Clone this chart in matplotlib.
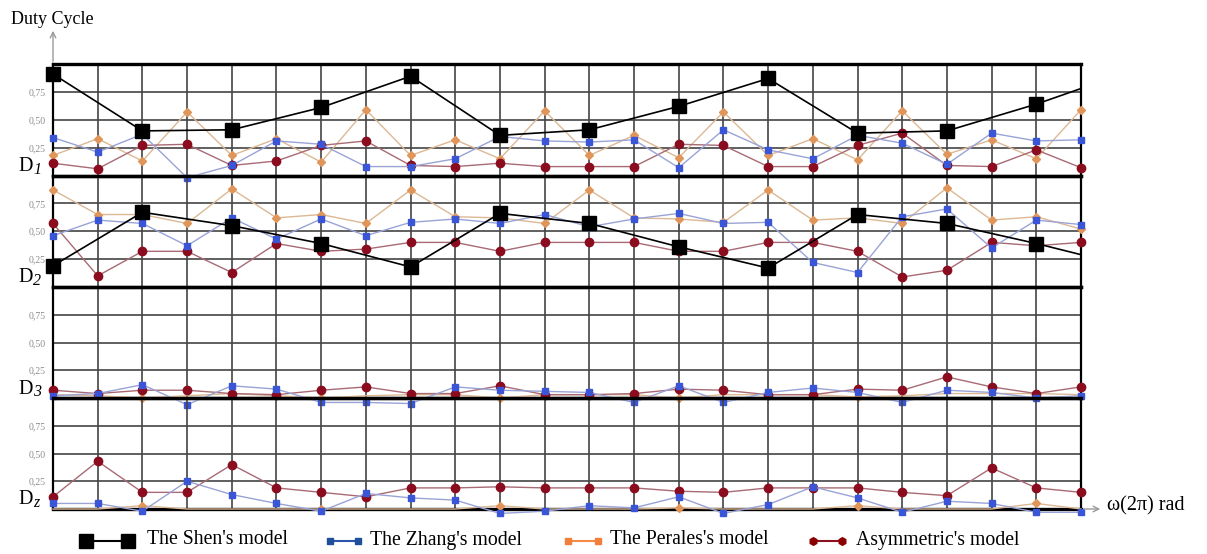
import numpy as np
import matplotlib
matplotlib.use("Agg")
import matplotlib.pyplot as plt
from matplotlib.lines import Line2D

# ---------------- data ----------------
x = list(range(24))
shen_x = [0, 2, 4, 6, 8, 10, 12, 14, 16, 18, 20, 22, 23]

shen_d1 = [0.91, 0.40, 0.41, 0.61, 0.89, 0.36, 0.41, 0.62, 0.87, 0.38, 0.40, 0.64, 0.78]
zhang_d1 = [0.34, 0.21, 0.37, -0.02, 0.09, 0.31, 0.28, 0.08, 0.08, 0.15, 0.35, 0.31,
            0.30, 0.32, 0.07, 0.41, 0.23, 0.15, 0.36, 0.29, 0.10, 0.38, 0.31, 0.32]
perales_d1 = [0.18, 0.33, 0.13, 0.57, 0.18, 0.33, 0.12, 0.59, 0.18, 0.32, 0.15, 0.58,
              0.18, 0.36, 0.16, 0.57, 0.18, 0.33, 0.14, 0.58, 0.19, 0.32, 0.15, 0.59]
asym_d1 = [0.11, 0.06, 0.27, 0.28, 0.09, 0.13, 0.27, 0.31, 0.09, 0.08, 0.11, 0.08,
           0.08, 0.08, 0.28, 0.27, 0.08, 0.08, 0.27, 0.38, 0.09, 0.08, 0.23, 0.07]

shen_d2 = [0.19, 0.67, 0.55, 0.39, 0.18, 0.66, 0.57, 0.36, 0.17, 0.65, 0.57, 0.39, 0.29]
zhang_d2 = [0.46, 0.60, 0.57, 0.37, 0.62, 0.43, 0.61, 0.46, 0.58, 0.61, 0.57, 0.65,
            0.54, 0.61, 0.66, 0.57, 0.58, 0.22, 0.13, 0.63, 0.70, 0.35, 0.60, 0.56]
perales_d2 = [0.87, 0.65, 0.65, 0.57, 0.88, 0.62, 0.65, 0.57, 0.87, 0.63, 0.62, 0.57,
              0.87, 0.62, 0.61, 0.58, 0.87, 0.60, 0.62, 0.57, 0.89, 0.60, 0.63, 0.52]
asym_d2 = [0.57, 0.10, 0.32, 0.32, 0.13, 0.39, 0.32, 0.34, 0.40, 0.40, 0.32, 0.40,
           0.40, 0.40, 0.32, 0.32, 0.40, 0.40, 0.32, 0.09, 0.15, 0.40, 0.37, 0.40]

zhang_d3 = [0.02, 0.04, 0.12, -0.06, 0.11, 0.08, -0.04, -0.04, -0.05, 0.10, 0.07, 0.06,
            0.05, -0.04, 0.11, -0.04, 0.05, 0.09, 0.05, -0.04, 0.07, 0.05, 0.00, 0.02]
perales_d3 = [0.03, 0.02, 0.00, 0.02, 0.04, 0.02, 0.00, 0.02, 0.03, 0.03, 0.00, 0.03,
              0.03, 0.03, 0.00, 0.03, 0.03, 0.03, 0.01, 0.02, 0.04, 0.04, 0.04, 0.03]
asym_d3 = [0.07, 0.04, 0.07, 0.07, 0.04, 0.03, 0.07, 0.10, 0.04, 0.04, 0.11, 0.03,
           0.03, 0.04, 0.08, 0.07, 0.03, 0.03, 0.08, 0.07, 0.19, 0.10, 0.04, 0.10]

zhang_d4 = [0.05, 0.05, -0.02, 0.25, 0.13, 0.05, -0.02, 0.14, 0.10, 0.08, -0.04, -0.02,
            0.03, 0.01, 0.11, -0.04, 0.04, 0.20, 0.10, -0.03, 0.07, 0.05, -0.03, -0.03]
perales_d4 = [0.00, 0.00, 0.03, 0.00, 0.00, 0.00, 0.00, 0.00, 0.00, 0.00, 0.03, 0.00,
              0.00, 0.00, 0.01, 0.00, 0.00, 0.00, 0.03, 0.00, 0.00, 0.00, 0.05, 0.00]
asym_d4 = [0.11, 0.43, 0.15, 0.15, 0.40, 0.19, 0.15, 0.11, 0.19, 0.19, 0.20, 0.19,
           0.19, 0.19, 0.16, 0.15, 0.19, 0.19, 0.19, 0.15, 0.12, 0.37, 0.19, 0.15]

panel_labels = ["1", "2", "3", "z"]
ytick_vals = [0.25, 0.50, 0.75]
ytick_labels = ["0,25", "0,50", "0,75"]
legend_labels = ["The Shen's model", "The Zhang's model", "The Perales's model", "Asymmetric's model"]

panels = [
    (shen_d1, zhang_d1, perales_d1, asym_d1),
    (shen_d2, zhang_d2, perales_d2, asym_d2),
    (None, zhang_d3, perales_d3, asym_d3),
    (None, zhang_d4, perales_d4, asym_d4),
]

# ---------------- style ----------------
SERIF = ["Liberation Serif", "DejaVu Serif"]
W, H = 1207, 554
fig = plt.figure(figsize=(W / 100, H / 100), dpi=100)
fig.patch.set_facecolor("white")

left_px, right_px = 53, 1081
edges = [64, 175.5, 287, 398, 509]

c_zhang_line, c_zhang_mk = "#9aa3d6", "#3a55d6"
c_per_line, c_per_mk = "#dcb894", "#e0965a"
c_asym_line, c_asym_mk = "#a86a74", "#8a0c1e"

for i, (shen, zh, pe, asy) in enumerate(panels):
    top, bot = edges[i], edges[i + 1]
    ax = fig.add_axes([left_px / W, 1 - bot / H, (right_px - left_px) / W, (bot - top) / H])
    ax.patch.set_visible(False)
    ax.set_xlim(0, 23)
    ax.set_ylim(0, 1)
    ax.set_xticks(range(1, 23))
    ax.set_yticks(ytick_vals)
    ax.set_yticklabels(ytick_labels, fontsize=7, color="#8c8c8c", family=SERIF)
    ax.tick_params(axis="x", length=0, labelbottom=False)
    ax.tick_params(axis="y", length=0, pad=5)
    ax.grid(True, color="#444444", lw=1.2)
    ax.set_axisbelow(True)
    for s in ("top", "bottom"):
        ax.spines[s].set_linewidth(2.4)
        ax.spines[s].set_color("black")
    for s in ("left", "right"):
        ax.spines[s].set_linewidth(1.6)
        ax.spines[s].set_color("black")

    per_every = None if shen is not None else [2, 6, 10, 14, 18, 22]
    ax.plot(x, pe, color=c_per_line, lw=1.0, marker="D", ms=4.5, mfc=c_per_mk, mec=c_per_mk,
            markevery=per_every, clip_on=False, zorder=3)
    ax.plot(x, asy, color=c_asym_line, lw=1.0, marker="o", ms=6, mfc=c_asym_mk, mec=c_asym_mk,
            clip_on=False, zorder=4)
    ax.plot(x, zh, color=c_zhang_line, lw=1.0, marker="s", ms=5, mfc=c_zhang_mk, mec=c_zhang_mk,
            clip_on=False, zorder=5)
    if shen is not None:
        ax.plot(shen_x, shen, color="black", lw=1.2, marker="s", ms=9.5, mfc="black", mec="black",
                markevery=list(range(12)), clip_on=False, zorder=6)

# ---------------- annotations overlay ----------------
ov = fig.add_axes([0, 0, 1, 1])
ov.set_xlim(0, W)
ov.set_ylim(H, 0)
ov.axis("off")
ov.patch.set_visible(False)

ov.annotate("", xy=(53, 28), xytext=(53, 64),
            arrowprops=dict(arrowstyle="->", color="#9a9a9a", lw=1.0))
ov.text(11, 19, "Duty Cycle", fontsize=13, family=SERIF, va="center", ha="left")
ov.annotate("", xy=(1103, 509), xytext=(1081, 509),
            arrowprops=dict(arrowstyle="->", color="#9a9a9a", lw=1.0))
ov.text(1107, 506, "ω(2π) rad", fontsize=14.5, family=SERIF, va="center", ha="left")

for i, sub in enumerate(panel_labels):
    b = edges[i + 1]
    ov.text(18, b - 9, "D", fontsize=14.5, family=SERIF, va="center", ha="left")
    ov.text(33, b - 6, sub, fontsize=11.5, family=SERIF, style="italic", va="center", ha="left")

# legend (manual)
leg_y = 541
leg_items = [
    (86, 128, 147, "black", "black", "s", 10),
    (330, 358, 370, "#2a55a8", "#1f4e9a", "s", 4.5),
    (568, 598, 610, "#f58a45", "#f07f3c", "s", 4.5),
    (813, 842, 856, "#8b1020", "#8b0000", "h", 5.5),
]
for (x0, x1, xt, lc, mc, mk, ms), lab in zip(leg_items, legend_labels):
    ov.add_line(Line2D([x0, x1], [leg_y, leg_y], color=lc, lw=1.5, marker=mk, ms=ms,
                       mfc=mc, mec=mc))
    ov.text(xt, leg_y - 1, lab, fontsize=14.2, family=SERIF, va="center", ha="left")

fig.savefig("out.png", dpi=100, facecolor="white")
